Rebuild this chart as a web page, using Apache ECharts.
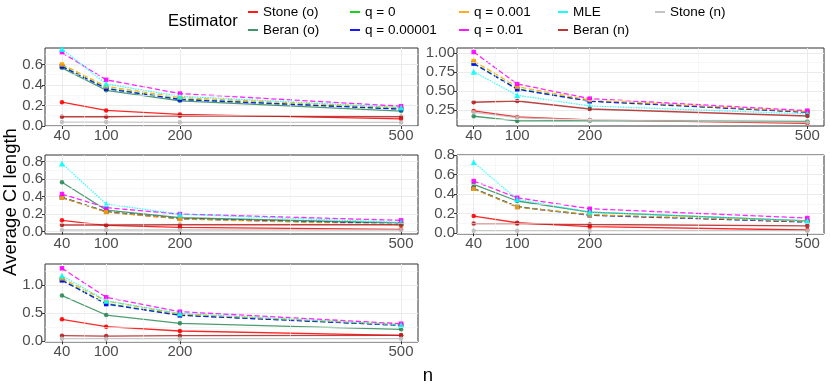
<!DOCTYPE html>
<html>
<head>
<meta charset="utf-8">
<script src="https://cdn.jsdelivr.net/npm/echarts@6/dist/echarts.min.js"></script>
<style>
  html, body { margin: 0; padding: 0; background: #fff; }
  #chart { width: 830px; height: 388px; }
</style>
</head>
<body>
<div id="chart"></div>
<script>
// sample sizes on the x axis
const nValues = [40, 100, 200, 500];

// one row per panel (top-left, top-right, mid-left, mid-right, bottom-left)
const stoneO = [[0.232, 0.152, 0.113, 0.070], [0.237, 0.157, 0.118, 0.074], [0.130, 0.073, 0.050, 0.028], [0.176, 0.108, 0.068, 0.034], [0.390, 0.260, 0.183, 0.106]];
const beranO = [[0.567, 0.348, 0.245, 0.145], [0.167, 0.105, 0.108, 0.100], [0.565, 0.248, 0.160, 0.100], [0.500, 0.330, 0.217, 0.128], [0.810, 0.466, 0.318, 0.212]];
const q0     = [[0.585, 0.370, 0.262, 0.166], [0.870, 0.530, 0.370, 0.222], [0.395, 0.230, 0.150, 0.090], [0.460, 0.272, 0.188, 0.117], [1.090, 0.670, 0.465, 0.286]];
const q1e5   = [[0.580, 0.364, 0.258, 0.164], [0.863, 0.524, 0.365, 0.220], [0.392, 0.228, 0.148, 0.088], [0.458, 0.270, 0.185, 0.115], [1.080, 0.660, 0.460, 0.283]];
const q1e3   = [[0.600, 0.386, 0.277, 0.177], [0.898, 0.558, 0.382, 0.228], [0.390, 0.225, 0.145, 0.080], [0.455, 0.268, 0.190, 0.122], [1.117, 0.714, 0.484, 0.294]];
const q1e2   = [[0.715, 0.450, 0.316, 0.193], [1.017, 0.594, 0.400, 0.241], [0.431, 0.275, 0.202, 0.130], [0.534, 0.363, 0.251, 0.156], [1.294, 0.780, 0.525, 0.312]];
const mle    = [[0.750, 0.410, 0.290, 0.180], [0.757, 0.444, 0.303, 0.197], [0.780, 0.317, 0.200, 0.107], [0.725, 0.347, 0.217, 0.128], [1.163, 0.720, 0.496, 0.289]];
const beranN = [[0.090, 0.090, 0.100, 0.090], [0.352, 0.369, 0.263, 0.170], [0.077, 0.077, 0.080, 0.080], [0.100, 0.100, 0.090, 0.075], [0.100, 0.093, 0.100, 0.106]];
const stoneN = [[0.038, 0.038, 0.036, 0.035], [0.220, 0.150, 0.115, 0.085], [0.020, 0.020, 0.020, 0.020], [0.027, 0.027, 0.027, 0.027], [0.047, 0.047, 0.047, 0.047]];

// y tick labels per panel
const yTicks = [[0, 0.2, 0.4, 0.6], [0.25, 0.5, 0.75, 1.0], [0, 0.2, 0.4, 0.6, 0.8], [0, 0.2, 0.4, 0.6, 0.8], [0, 0.5, 1.0]];
const yDigits = [1, 2, 1, 1, 1];
const yLimits = [[0, 0.76], [0.038, 1.07], [-0.026, 0.877], [-0.007, 0.80], [-0.012, 1.37]];
const xLimits = [17, 523];

const estimators = [
  { name: 'Stone (o)',   data: stoneO, color: '#FF0000', dash: 'solid',  symbol: 'circle' },
  { name: 'Beran (o)',   data: beranO, color: '#2E8B57', dash: 'solid',  symbol: 'circle' },
  { name: 'q = 0',       data: q0,     color: '#00CD00', dash: 'dashed', symbol: 'rect' },
  { name: 'q = 0.00001', data: q1e5,   color: '#0000FF', dash: 'dashed', symbol: 'rect' },
  { name: 'q = 0.001',   data: q1e3,   color: '#FFA500', dash: 'dashed', symbol: 'rect' },
  { name: 'q = 0.01',    data: q1e2,   color: '#FF00FF', dash: 'dashed', symbol: 'rect' },
  { name: 'MLE',         data: mle,    color: '#00FFFF', dash: 'dotted', symbol: 'triangle' },
  { name: 'Beran (n)',   data: beranN, color: '#B22222', dash: 'solid',  symbol: 'circle' },
  { name: 'Stone (n)',   data: stoneN, color: '#BEBEBE', dash: 'solid',  symbol: 'circle' }
];

const panels = [
  { left: 45,  top: 48,  width: 373, height: 78 },
  { left: 457, top: 48,  width: 367, height: 78 },
  { left: 45,  top: 155, width: 373, height: 79 },
  { left: 457, top: 155, width: 367, height: 79 },
  { left: 45,  top: 264, width: 373, height: 78 }
];

const FONT = '"Liberation Sans", Arial, sans-serif';

// midpoints between major ticks (ggplot minor grid)
function minorOf(ticks, lo, hi) {
  const step = ticks[1] - ticks[0];
  const out = [];
  for (let i = -1; i < ticks.length; i++) {
    const v = ticks[0] + step * i + step / 2;
    if (v > lo && v < hi) out.push(v);
  }
  return out;
}
const xMinor = [70, 150, 350];

const grid = [], xAxis = [], yAxis = [], series = [];

panels.forEach((p, i) => {
  grid.push({ ...p, show: true, borderColor: '#333', borderWidth: 1, backgroundColor: '#fff' });

  xAxis.push({
    type: 'value', gridIndex: i, min: xLimits[0], max: xLimits[1],
    axisLine: { show: false },
    axisTick: { show: true, length: 3, lineStyle: { color: '#333' }, customValues: nValues },
    axisLabel: { customValues: nValues, color: '#4D4D4D', fontSize: 15, margin: 2, fontFamily: FONT },
    splitLine: { show: true, lineStyle: { color: '#EBEBEB', width: 1 } }
  });

  const [lo, hi] = yLimits[i];
  yAxis.push({
    type: 'value', gridIndex: i, min: lo, max: hi,
    axisLine: { show: false },
    axisTick: { show: true, length: 3, lineStyle: { color: '#333' }, customValues: yTicks[i] },
    axisLabel: {
      customValues: yTicks[i], color: '#4D4D4D', fontSize: 15, margin: 2, fontFamily: FONT,
      formatter: v => Number(v).toFixed(yDigits[i])
    },
    splitLine: { show: true, lineStyle: { color: '#EBEBEB', width: 1 } }
  });

  // minor grid lines
  const minorLines = xMinor.map(v => ({ xAxis: v }))
    .concat(minorOf(yTicks[i], lo, hi).map(v => ({ yAxis: v })));
  series.push({
    type: 'line', xAxisIndex: i, yAxisIndex: i, data: [], silent: true, z: 1,
    markLine: {
      silent: true, symbol: 'none', label: { show: false },
      lineStyle: { color: '#F2F2F2', width: 0.6, type: 'solid' },
      animation: false,
      data: minorLines
    }
  });

  estimators.forEach(est => {
    series.push({
      name: est.name, type: 'line', xAxisIndex: i, yAxisIndex: i, z: 3,
      data: nValues.map((n, k) => [n, est.data[i][k]]),
      color: est.color,
      symbol: est.symbol, symbolSize: est.symbol === 'triangle' ? 6 : 4.5,
      showSymbol: true,
      lineStyle: { width: 1.3, type: est.dash, opacity: 0.85 },
      itemStyle: { opacity: 0.9 },
      emphasis: { disabled: true },
      animation: false
    });
  });
});

// legend: 5 columns of 2 rows, filled by column
const legendLefts = [248, 350, 459, 558, 655];
const legend = legendLefts.map((left, c) => ({
  left, top: 4, orient: 'vertical', padding: 0,
  data: estimators.slice(c * 2, c * 2 + 2).map(e => e.name),
  icon: 'rect', itemWidth: 10, itemHeight: 2, itemGap: 2,
  textStyle: { fontSize: 13.5, color: '#000', fontFamily: FONT, lineHeight: 16 },
  selectedMode: false
}));

const chart = echarts.init(document.getElementById('chart'));
chart.setOption({
  backgroundColor: '#fff',
  animation: false,
  textStyle: { fontFamily: FONT },
  legend,
  grid, xAxis, yAxis, series,
  graphic: [
    { type: 'text', x: 168, y: 21,
      style: { text: 'Estimator', font: '16.5px ' + FONT, fill: '#000', verticalAlign: 'middle' } },
    { type: 'text', x: 11, y: 202, rotation: Math.PI / 2,
      style: { text: 'Average CI length', font: '18.5px ' + FONT, fill: '#000', align: 'center', verticalAlign: 'middle' } },
    { type: 'text', x: 428, y: 376,
      style: { text: 'n', font: '18.5px ' + FONT, fill: '#000', align: 'center', verticalAlign: 'middle' } }
  ]
});
</script>
</body>
</html>
